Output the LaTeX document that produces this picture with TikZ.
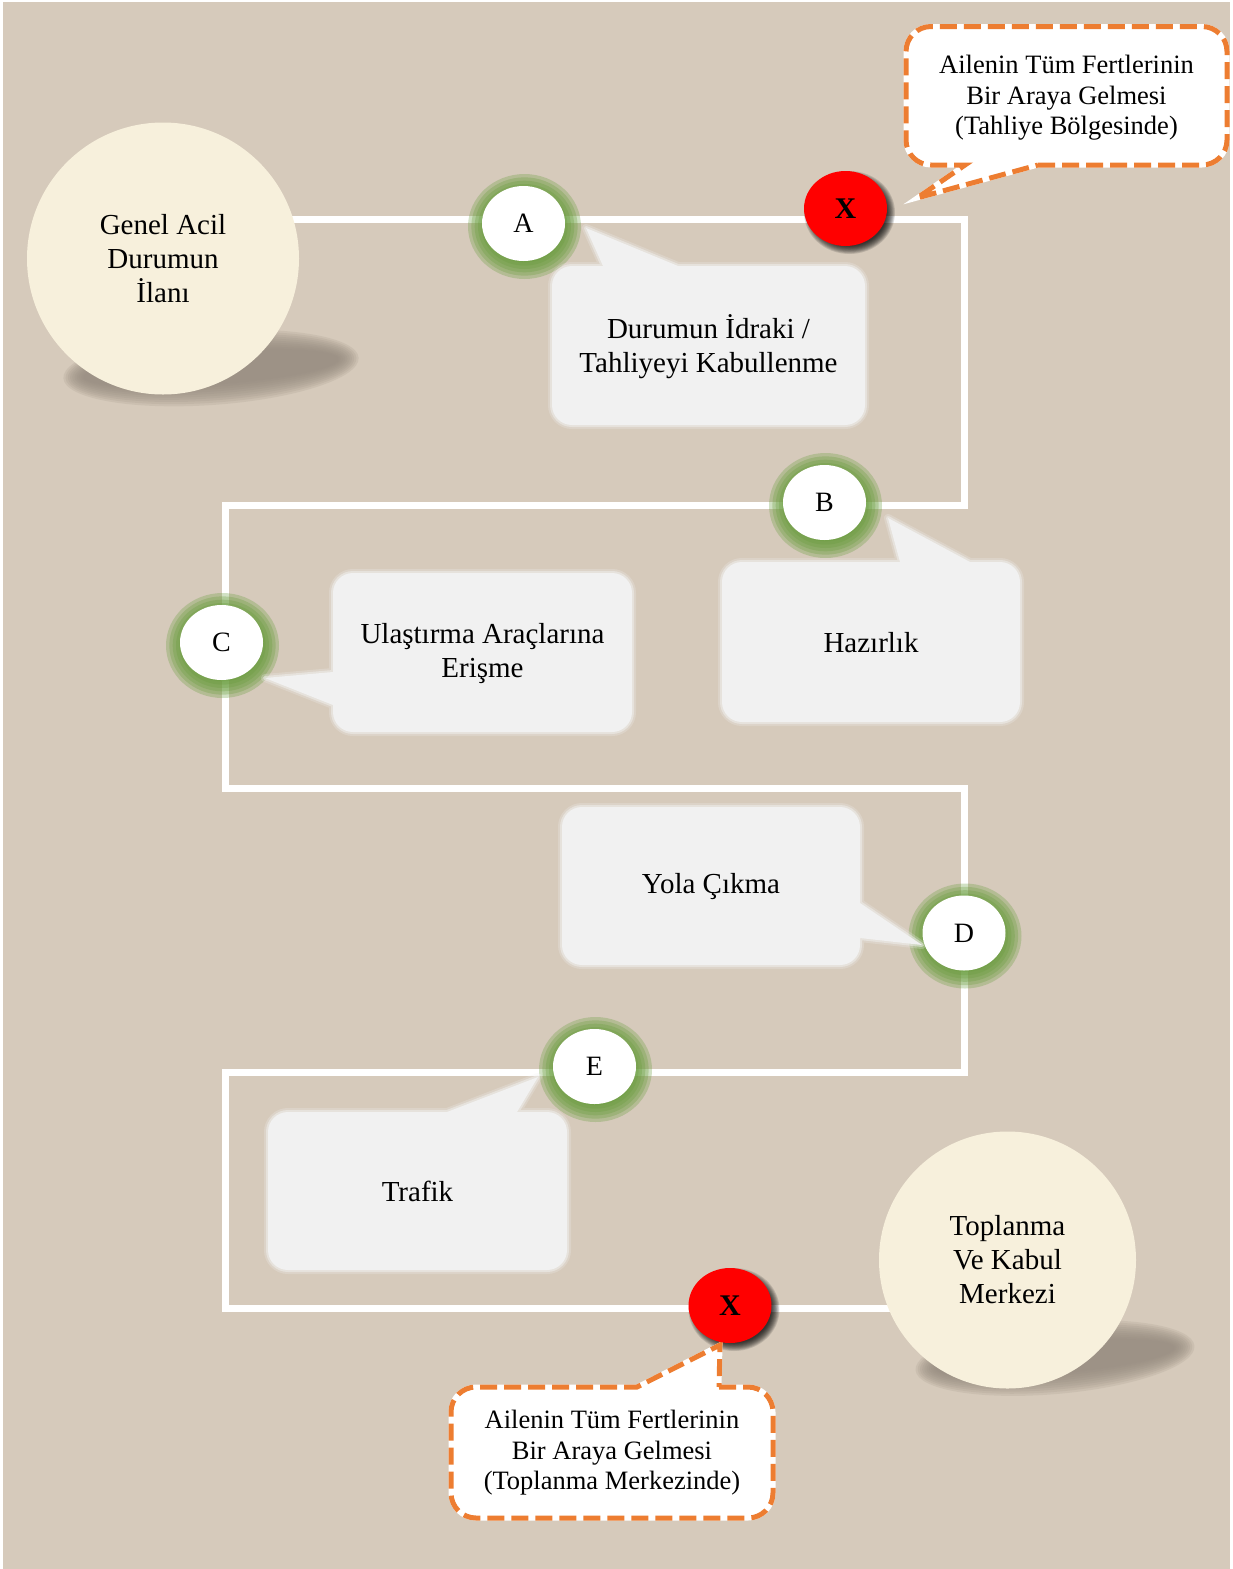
\documentclass[tikz,border=0pt]{standalone}
\usepackage{fontspec}
\setmainfont{Liberation Serif}
\usetikzlibrary{shapes.geometric}

\pgfdeclarelayer{bg}
\pgfdeclarelayer{road}
\pgfdeclarelayer{glow}
\pgfsetlayers{bg,road,glow,main}

\definecolor{paper}{RGB}{214,202,187}
\definecolor{cream}{RGB}{247,240,220}
\definecolor{bubble}{RGB}{241,241,241}
\definecolor{halo}{RGB}{104,156,60}
\definecolor{callout}{RGB}{237,125,49}
\definecolor{groundtone}{RGB}{150,139,127}

\tikzset{
  every node/.style={align=center, inner sep=0pt, text=black},
  bigtext/.style={font=\fontsize{29}{34}\selectfont},
  smalltext/.style={font=\fontsize{26.5}{30.5}\selectfont},
  station/.style={ellipse, fill=cream, minimum width=272pt, minimum height=272pt, bigtext},
  stop/.style={ellipse, fill=white, minimum width=83pt, minimum height=75pt, font=\fontsize{28}{34}\selectfont},
  endpoint/.style={ellipse, fill=red, minimum width=83pt, minimum height=75pt, font=\fontsize{30}{34}\selectfont\bfseries},
  road/.style={draw=white, line width=7pt, line join=miter},
}

% soft-edged filled ellipse built from stacked translucent layers
\newcommand\softblob[5]{%
  \foreach \k in {0,...,9}{%
    \fill[#5] #1 ellipse [x radius={(#2+#4-\k*#4/4.5)*1pt}, y radius={(#3+#4-\k*#4/4.5)*1pt}];
  }}

% grey speech bubble with a slightly blurred rim
\newcommand\softbubble[1]{%
  \path[draw=bubble, line width=8pt, draw opacity=0.25, line join=round] #1;
  \path[draw=bubble, line width=4pt, draw opacity=0.5, line join=round] #1;
  \path[fill=bubble] #1;
}

% white callout with an orange dashed outline
\newcommand\dashcallout[1]{%
  \path[fill=white] #1;
  \path[draw=white, line width=5pt] #1;
  \path[draw=callout, line width=5pt, dash pattern=on 17pt off 7pt] #1;
}

\begin{document}
\begin{tikzpicture}[x=1pt, y=-1pt]
\useasboundingbox (0,0) rectangle (1232,1569);

% page and ground shadows
\begin{pgfonlayer}{bg}
  \fill[white] (0,0) rectangle (1232,1569);
  \fill[paper] (3,2) rectangle (1230,1569);
  \begin{scope}[rotate around={4:(211,368)}]
    \softblob{(211,368)}{138}{27}{10}{groundtone, opacity=0.17}
  \end{scope}
  \begin{scope}[rotate around={5:(1055,1358)}]
    \softblob{(1055,1358)}{130}{26}{10}{groundtone, opacity=0.17}
  \end{scope}
\end{pgfonlayer}

% speech bubbles
\softbubble{(678,266) [rounded corners=20pt] -- (865,266) -- (865,425) -- (552,425) -- (552,266) [sharp corners] -- (603,266) -- (586,228) -- cycle}
\softbubble{(970,562) [rounded corners=20pt] -- (1020,562) -- (1020,722) -- (722,722) -- (722,562) [sharp corners] -- (900,562) -- (888,518) -- cycle}
\softbubble{(333,705) [rounded corners=20pt] -- (333,732) -- (632,732) -- (632,573) -- (333,573) [sharp corners] -- (333,672) -- (265,678) -- cycle}
\softbubble{(860,903) [rounded corners=20pt] -- (860,807) -- (562,807) -- (562,965) -- (860,965) [sharp corners] -- (860,938) -- (922,945) -- cycle}
\softbubble{(447,1112) [rounded corners=20pt] -- (268,1112) -- (268,1270) -- (567,1270) -- (567,1112) [sharp corners] -- (517,1112) -- (538,1077) -- cycle}

% dashed callouts
\dashcallout{(1038,165) [rounded corners=25pt] -- (1227,165) -- (1227,26.5) -- (906,26.5) -- (906,165) [sharp corners] -- (965,165) -- (917,198) -- cycle}
\dashcallout{(719,1387) [rounded corners=25pt] -- (773,1387) -- (773,1518) -- (451,1518) -- (451,1387) [sharp corners] -- (637,1387) -- (720,1345) -- cycle}

% start and end points
\node[station] (gen) at (163,258.5) {Genel Acil\\Durumun\\İlanı};
\node[station, minimum width=257pt, minimum height=257pt] (top) at (1007.5,1260) {Toplanma\\Ve Kabul\\Merkezi};

% stages
\node[stop] (A) at (523.5,223.5) {A};
\node[stop] (B) at (824.5,502.5) {B};
\node[stop] (C) at (221.5,642.5) {C};
\node[stop] (D) at (964,933) {D};
\node[stop] (E) at (594.5,1066.5) {E};
\node[endpoint] (X1) at (845.5,208.5) {X};
\node[endpoint] (X2) at (730,1305.5) {X};

% bubble texts
\node[bigtext] (t1) at (708.5,347) {Durumun İdraki /\\Tahliyeyi Kabullenme};
\node[bigtext] (t2) at (871,643) {Hazırlık};
\node[bigtext] (t3) at (482.5,654) {Ulaştırma Araçlarına\\Erişme};
\node[bigtext] (t4) at (711,887) {Yola Çıkma};
\node[bigtext] (t5) at (417.5,1191) {Trafik};
\node[smalltext] (n1) at (1066.5,98) {Ailenin Tüm Fertlerinin\\Bir Araya Gelmesi\\(Tahliye Bölgesinde)};
\node[smalltext] (n2) at (612,1453) {Ailenin Tüm Fertlerinin\\Bir Araya Gelmesi\\(Toplanma Merkezinde)};

% winding route
\coordinate (k1) at (964,219);
\coordinate (k2) at (964,505);
\coordinate (k3) at (225,505);
\coordinate (k4) at (225,788.5);
\coordinate (k5) at (964,788.5);
\coordinate (k6) at (964,1072.5);
\coordinate (k7) at (225,1072.5);
\coordinate (k8) at (225,1308);
\begin{pgfonlayer}{road}
  \draw[road] (gen.center |- k1) -- (k1) -- (k2) -- (k3) -- (k4) -- (k5) -- (k6) -- (k7) -- (k8) -- (top.center |- k8);
\end{pgfonlayer}

% green glow round the stages, drop shadow under the red markers
\begin{pgfonlayer}{glow}
  \foreach \n in {A,B,C,D,E}{\softblob{([shift={(1,3)}]\n.center)}{41.5}{37.5}{15}{halo, opacity=0.3}}
  \foreach \n in {X1,X2}{\softblob{([shift={(4,4)}]\n.center)}{41.5}{37.5}{4}{black, opacity=0.12}}
\end{pgfonlayer}
\end{tikzpicture}
\end{document}
